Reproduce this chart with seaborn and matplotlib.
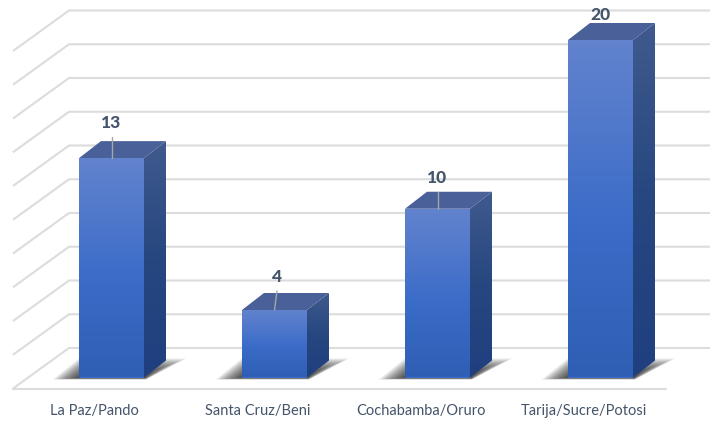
import numpy as np
import matplotlib
matplotlib.use("Agg")
import matplotlib.pyplot as plt
from matplotlib.colors import LinearSegmentedColormap
from matplotlib.patches import Polygon
import seaborn as sns

regions = ["La Paz/Pando", "Santa Cruz/Beni", "Cochabamba/Oruro", "Tarija/Sucre/Potosi"]
counts = [13, 4, 10, 20]
grid_values = list(range(0, 22, 2))

W, H = 710, 422
SX, SY = 163.0, 16.875      # pixels per category / per value unit
X0, Y0 = 111.5, 377.5       # pixel of first category / of value 0 at the bars' base
def dx(p): return p / SX
def dy(p): return p / SY

sns.set_theme(style="white")
plt.rcParams["font.family"] = ["Lato", "DejaVu Sans"]
fig = plt.figure(figsize=(W / 100, H / 100), dpi=100, facecolor="white")
ax = fig.add_axes([0, 0, 1, 1])

sns.barplot(x=regions, y=counts, width=65 / SX, color="#3a6cc8", saturation=1,
            linewidth=0, errorbar=None, ax=ax, zorder=5)

xlim = (-X0 / SX, (W - X0) / SX)
ylim = ((Y0 - H) / SY, Y0 / SY)

# gridlines: side wall + back wall
GRID = "#dcdcdc"
wall_x, wall_y = dx(69 - X0), dy(Y0 - 348)
front_x, front_y = dx(13 - X0), dy(Y0 - 388.5)
for v in grid_values:
    ax.plot([front_x, wall_x, xlim[1]],
            [v + front_y, v + wall_y, v + wall_y],
            color=GRID, lw=1.5, zorder=1, solid_joinstyle="miter", solid_capstyle="butt")
ax.plot([front_x, dx(666 - X0)], [front_y, front_y], color=GRID, lw=1.5, zorder=1)

front_cmap = LinearSegmentedColormap.from_list(
    "front", [(0, "#6283ce"), (0.2, "#557bcc"), (0.55, "#3a6cc8"), (1, "#2f5fb4")])
side_cmap = LinearSegmentedColormap.from_list(
    "side", [(0, "#405a8e"), (0.5, "#26477f"), (1, "#1f3f80")])
grad = np.linspace(0, 1, 256).reshape(-1, 1)

DEPTH_X, DEPTH_Y = dx(22), dy(17)
bars = list(ax.patches)
for bar, val in zip(bars, counts):
    l, w = bar.get_x(), bar.get_width()
    r = l + w
    # soft floor shadow built from stacked translucent layers
    n = 12
    for k in range(n):
        t = k / (n - 1)
        grow = 1 - t
        poly = [(l - dx(2 + 24 * grow), -dy(0.5 + 1.5 * grow)),
                (l + dx(8 - 8 * grow), dy(6 + 13 * grow)),
                (r + dx(8 + 34 * grow), dy(6 + 13 * grow)),
                (r + dx(1 + 1 * grow), -dy(0.5 + 1.5 * grow))]
        ax.add_patch(Polygon(poly, closed=True, fc="#000000", ec="none",
                             alpha=0.085, zorder=2))
    # front face
    im = ax.imshow(grad, cmap=front_cmap, extent=(l, r, 0, val), origin="upper",
                   aspect="auto", zorder=6)
    im.set_clip_path(bar)
    # side face
    side = Polygon([(r, 0), (r + DEPTH_X, DEPTH_Y), (r + DEPTH_X, val + DEPTH_Y), (r, val)],
                   closed=True, fc="none", ec="none", zorder=4)
    ax.add_patch(side)
    im2 = ax.imshow(grad, cmap=side_cmap, extent=(r, r + DEPTH_X, 0, val + DEPTH_Y),
                    origin="upper", aspect="auto", zorder=4)
    im2.set_clip_path(side)
    # top face
    ax.add_patch(Polygon([(l, val), (l + DEPTH_X, val + DEPTH_Y),
                          (r + DEPTH_X, val + DEPTH_Y), (r, val)],
                         closed=True, fc="#4a6098", ec="none", zorder=4))

# data labels with leader lines
TEXT = "#44546a"
label_dx = [0, 2.5, 0, 0]
label_dy = [35, 33, 31, 25]
for i, (bar, val) in enumerate(zip(bars, counts)):
    c = bar.get_x() + bar.get_width() / 2
    ax.text(c + dx(label_dx[i]), val + dy(label_dy[i]), str(val), ha="center", va="center",
            fontsize=12.5, fontweight="black", color=TEXT, zorder=9)
    if label_dy[i] > 26:
        ax.plot([c, c + dx(label_dx[i])],
                [val, val + dy(label_dy[i] - 14)],
                color="#a6a6a6", lw=1, zorder=8)

# category labels
for i, name in enumerate(regions):
    ax.text(i - dx(17), dy(Y0 - 411), name, ha="center", va="center",
            fontsize=10.5, color=TEXT, zorder=9)

ax.set_xlim(*xlim)
ax.set_ylim(*ylim)
ax.axis("off")
fig.savefig("out.png", dpi=100, facecolor="white")
